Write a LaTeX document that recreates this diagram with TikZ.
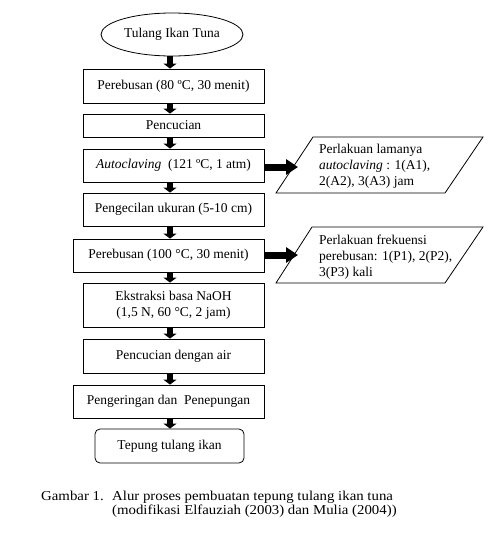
\documentclass[tikz,border=0pt]{standalone}
\usepackage{fontspec}
\setmainfont{Liberation Serif}
\newfontfamily\capfont[FakeStretch=1.09]{Liberation Serif}
\usetikzlibrary{shapes.geometric,arrows.meta}
\begin{document}
\begin{tikzpicture}[x=1pt,y=-1pt,
  txt/.style={font=\fontsize{13.5}{16}\selectfont},
  captxt/.style={font=\capfont\fontsize{13.6}{14.5}\selectfont,anchor=base west,inner sep=0pt},
  proc/.style={txt,draw,line width=0.8pt,rectangle,inner sep=0pt,align=center},
  vflow/.style={line width=6pt,-{Triangle[width=13pt,length=5pt]}},
  hflow/.style={line width=7pt,-{Triangle[width=15pt,length=12pt]}},
  para/.style={line width=0.8pt},
  ptext/.style={txt,align=left,anchor=west,inner sep=0pt}]
\useasboundingbox (0,0) rectangle (493,544);
\coordinate (ax) at (170,0);
\node[txt,draw,line width=0.8pt,ellipse,minimum width=142pt,minimum height=43pt,inner sep=0pt] (e) at (172,34.5) {Tulang Ikan Tuna};
\node[proc,minimum width=181pt,minimum height=34pt] (b1) at (173.5,86) {Perebusan (80 ºC, 30 menit)};
\node[proc,minimum width=181pt,minimum height=23pt] (b2) at (173.5,125.5) {Pencucian};
\node[proc,minimum width=181pt,minimum height=33pt] (b3) at (173.5,165.5) {\textit{Autoclaving}\ \ (121 ºC, 1 atm)};
\node[proc,minimum width=181pt,minimum height=33pt] (b4) at (173.5,209.5) {Pengecilan ukuran (5-10 cm)};
\node[proc,minimum width=191pt,minimum height=33pt] (b5) at (168.5,255.5) {Perebusan (100 °C, 30 menit)};
\node[proc,minimum width=181pt,minimum height=44pt] (b6) at (173.5,305) {Ekstraksi basa NaOH\\(1,5 N, 60 °C, 2 jam)};
\node[proc,minimum width=181pt,minimum height=34pt] (b7) at (173.5,356) {Pencucian dengan air};
\node[proc,minimum width=191pt,minimum height=33pt] (b8) at (168.5,401.5) {Pengeringan dan\ \ Penepungan};
\node[proc,rounded corners=5pt,minimum width=149pt,minimum height=34pt] (b9) at (169.5,446) {Tepung tulang ikan};
\foreach \a/\b in {e/b1,b1/b2,b2/b3,b3/b4,b4/b5,b5/b6,b6/b7,b7/b8,b8/b9}
  \draw[vflow] (\a.south -| ax) -- (\b.north -| ax);
% parallelograms
\draw[para] (313,137) -- (483,137) -- (445,193) -- (276,193) -- cycle;
\draw[para] (312,227) -- (483,227) -- (445,283) -- (276,283) -- cycle;
\node[ptext] (p1) at (319,166) {Perlakuan lamanya\\\textit{autoclaving} : 1(A1),\\2(A2), 3(A3) jam};
\node[ptext] (p2) at (319,257) {Perlakuan frekuensi\\perebusan: 1(P1), 2(P2),\\3(P3) kali};
\coordinate (p1in) at (298,167);
\coordinate (p2in) at (298,255);
\draw[hflow] (b3.east |- p1in) -- (p1in);
\draw[hflow] (b5.east |- p2in) -- (p2in);
% caption
\node[captxt] (c0) at (41,500) {Gambar 1.};
\node[captxt] (c1) at (112,500) {Alur proses pembuatan tepung tulang ikan tuna};
\node[captxt] (c2) at (112,514.5) {(modifikasi Elfauziah (2003) dan Mulia (2004))};
\end{tikzpicture}
\end{document}
